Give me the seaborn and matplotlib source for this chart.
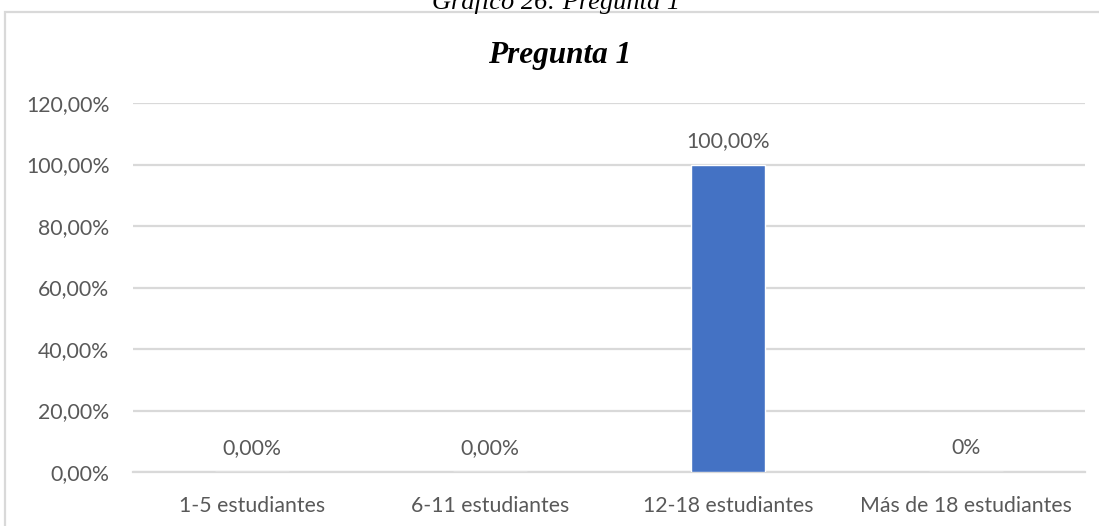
import matplotlib
matplotlib.use("Agg")
import matplotlib.pyplot as plt
from matplotlib.patches import Rectangle
import seaborn as sns
import pandas as pd

categories = ["1-5 estudiantes", "6-11 estudiantes", "12-18 estudiantes", "Más de 18 estudiantes"]
values = [0.0, 0.0, 100.0, 0.0]
value_labels = ["0,00%", "0,00%", "100,00%", "0%"]
y_ticks = [0, 20, 40, 60, 80, 100, 120]
y_tick_labels = ["0,00%", "20,00%", "40,00%", "60,00%", "80,00%", "100,00%", "120,00%"]

sns.set_theme(style="white")
plt.rcParams["font.family"] = ["Lato", "DejaVu Sans"]

text_color = "#595959"
grid_color = "#d9d9d9"
bar_color = "#4472C4"
label_size = 15.3

W, H = 1099, 526
fig = plt.figure(figsize=(W / 100, H / 100), dpi=100)
ax = fig.add_axes([133 / W, 1 - 472 / H, (1085 - 133) / W, (472 - 103) / H])

df = pd.DataFrame({"cat": categories, "val": values})
sns.barplot(data=df, x="cat", y="val", color=bar_color, width=0.315,
            saturation=1, ax=ax, zorder=3)

ax.set_ylim(0, 120)
ax.set_xlim(-0.5, 3.5)
ax.set_yticks(y_ticks)
ax.set_yticklabels(y_tick_labels)
ax.yaxis.grid(True, color=grid_color, linewidth=1.6, zorder=0)
ax.set_axisbelow(True)
for s in ["top", "right", "left"]:
    ax.spines[s].set_visible(False)
ax.spines["bottom"].set_color(grid_color)
ax.spines["bottom"].set_linewidth(1.6)
ax.tick_params(axis="y", length=0, pad=17, labelsize=label_size, labelcolor=text_color)
ax.tick_params(axis="x", length=0, pad=17.5, labelsize=label_size, labelcolor=text_color)
ax.set_xlabel("")
ax.set_ylabel("")

for i, (v, lab) in enumerate(zip(values, value_labels)):
    ax.annotate(lab, (i, v), xytext=(0, 10), textcoords="offset points",
                ha="center", va="bottom", fontsize=label_size, color=text_color)

# chart title, centred on the chart frame
fig.text(560 / W, 1 - 63 / H, "Pregunta 1", ha="center", va="baseline",
         fontsize=22.5, fontweight="bold", fontstyle="italic",
         family="Liberation Serif", color="black")

# chart frame
fig.patches.append(Rectangle((4.5 / W, -0.1), 1.2, 1.1 - 12.5 / H, transform=fig.transFigure,
                             fill=False, edgecolor=grid_color, linewidth=1.6))
fig.text(556 / W, 1 - 9 / H, "Gráfico 26: Pregunta 1", ha="center", va="baseline",
         fontsize=19, fontstyle="italic", family="Liberation Serif", color="black")

fig.savefig("out.png", dpi=100, facecolor="white")
